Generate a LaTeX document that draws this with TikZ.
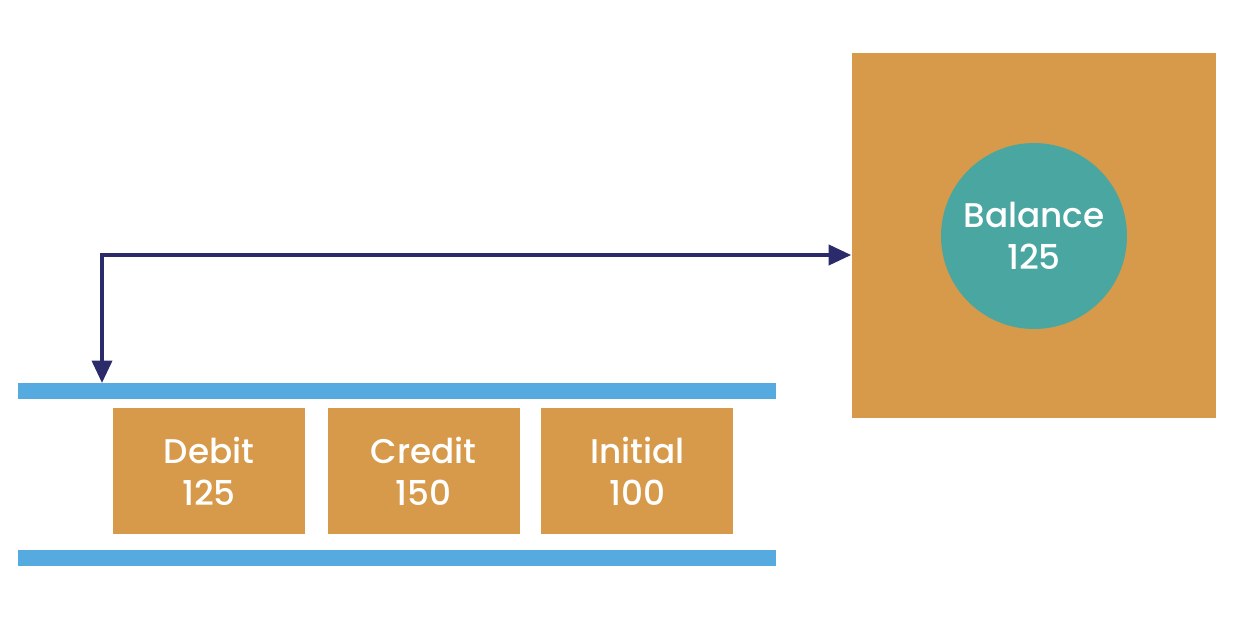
\documentclass[tikz,border=0pt]{standalone}
\usepackage{fontspec}
\setmainfont{Poppins Medium}
\usetikzlibrary{positioning,arrows.meta}
\definecolor{ledger}{HTML}{D69A4A}
\definecolor{bal}{HTML}{4AA6A0}
\definecolor{rail}{HTML}{55AADF}
\definecolor{navy}{HTML}{2B2A6B}
\tikzstyle{entry} = [rectangle, fill=ledger, minimum width=3.84cm, minimum height=2.52cm, text=white, align=center, font=\fontsize{19.5}{24}\selectfont]
\tikzstyle{railbar} = [fill=rail, draw=none]
\tikzstyle{arrow} = [navy, line width=2.2pt, {Triangle[length=0.45cm,width=0.4cm]}-{Triangle[length=0.45cm,width=0.4cm]}]

\begin{document}
\begin{tikzpicture}[x=0.02cm, y=-0.02cm]
	% Frame
	\useasboundingbox (0,0) rectangle (1244,626);

	% Balance
	\node[rectangle, fill=ledger, minimum size=7.3cm] (store) at (1034,235.5) {};
	\node[circle, fill=bal, minimum size=3.72cm, text=white, align=center, font=\fontsize{19.5}{24}\selectfont] (balance) at (1034,236) {Balance\\125};

	% Rails
	\fill[railbar] (18,383) rectangle (776,399);
	\fill[railbar] (18,550) rectangle (776,566);
	\coordinate (top) at (102,383);

	% Entries
	\node[entry] (debit) at (209,471) {Debit\\125};
	\node[entry, right=0.44cm of debit] (credit) {Credit\\150};
	\node[entry, right=0.42cm of credit] (initial) {Initial\\100};

	% Arrow
	\draw[arrow] (top) |- (store.west |- 0,255);
\end{tikzpicture}
\end{document}
